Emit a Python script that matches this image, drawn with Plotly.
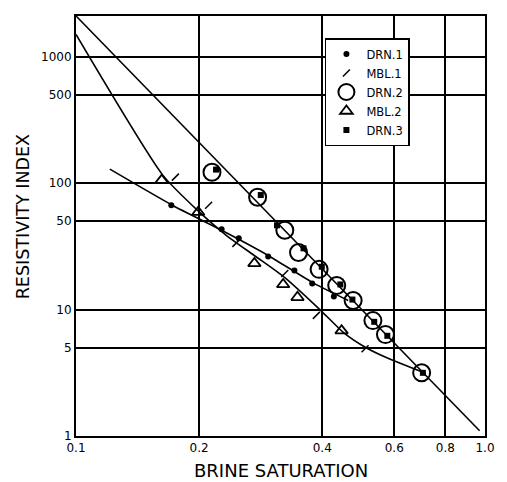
import plotly.graph_objects as go

# ---- data (brine saturation, resistivity index) ----
drn1_x = [0.171, 0.227, 0.250, 0.295, 0.342, 0.378, 0.427]
drn1_y = [66.9, 43.1, 36.6, 26.3, 20.4, 16.1, 12.7]

mbl1_x = [0.175, 0.211, 0.246, 0.324, 0.387, 0.509]
mbl1_y = [111.6, 66.9, 33.4, 19.3, 9.0, 4.9]

drn2_x = [0.215, 0.278, 0.324, 0.350, 0.393, 0.434, 0.476, 0.532, 0.571, 0.700]
drn2_y = [122, 77.4, 42.4, 28.3, 20.8, 15.5, 11.8, 8.18, 6.34, 3.16]

mbl2_x = [0.162, 0.199, 0.273, 0.321, 0.348, 0.446]
mbl2_y = [105.6, 58.9, 23.2, 15.8, 12.5, 6.81]

drn3_x = [0.220, 0.283, 0.310, 0.360, 0.399, 0.443, 0.474, 0.536, 0.577, 0.705]
drn3_y = [128, 80.5, 46.4, 30.5, 21.8, 15.8, 12.0, 8.0, 6.2, 3.16]

# fitted curves as drawn on the chart
lineA_x = [0.1, 0.97]
lineA_y = [2100, 1.1]

lineB_x = [0.100, 0.163, 0.198, 0.233, 0.275, 0.324, 0.397, 0.451, 0.512, 0.583, 0.700]
lineB_y = [1500, 115.7, 61.1, 38.7, 26.3, 17.9, 9.82, 6.57, 4.99, 4.08, 3.22]

lineC_x = [0.121, 0.172, 0.227, 0.295, 0.382, 0.463]
lineC_y = [129, 66.9, 42.4, 26.8, 16.1, 11.8]

x_ticks = [0.1, 0.2, 0.4, 0.6, 0.8, 1.0]
x_labels = ["0.1", "0.2", "0.4", "0.6", "0.8", "1.0"]
y_ticks = [1, 5, 10, 50, 100, 500, 1000]
y_labels = ["1", "5", "10", "50", "100", "500", "1000"]

FONT = "DejaVu Sans"
fig = go.Figure()

for lx, ly, shape in [(lineA_x, lineA_y, "linear"), (lineB_x, lineB_y, "spline"), (lineC_x, lineC_y, "spline")]:
    fig.add_trace(go.Scatter(x=lx, y=ly, mode="lines",
                             line=dict(color="black", width=1.6, shape=shape, smoothing=0.6),
                             showlegend=False, hoverinfo="skip"))

fig.add_trace(go.Scatter(x=drn1_x, y=drn1_y, mode="markers", name="DRN.1",
                         marker=dict(symbol="circle", size=6, color="black")))
fig.add_trace(go.Scatter(x=mbl1_x, y=mbl1_y, mode="markers", name="MBL.1",
                         marker=dict(symbol="line-ne", size=7, color="black", line=dict(color="black", width=1.5))))
fig.add_trace(go.Scatter(x=drn2_x, y=drn2_y, mode="markers", name="DRN.2",
                         marker=dict(symbol="circle-open", size=17, color="black", line=dict(color="black", width=2))))
fig.add_trace(go.Scatter(x=mbl2_x, y=mbl2_y, mode="markers", name="MBL.2",
                         marker=dict(symbol="triangle-up-open", size=11, color="black", line=dict(color="black", width=1.8))))
fig.add_trace(go.Scatter(x=drn3_x, y=drn3_y, mode="markers", name="DRN.3",
                         marker=dict(symbol="square", size=6, color="black")))

axis_common = dict(type="log", showline=True, linecolor="black", linewidth=2, mirror=True,
                   showgrid=True, gridcolor="black", gridwidth=2, zeroline=False, ticks="",
                   tickfont=dict(family=FONT, size=12, color="black"))

fig.update_xaxes(range=[-1, 0], tickvals=x_ticks, ticktext=x_labels, **axis_common)
fig.update_yaxes(range=[0, 3.322], tickvals=y_ticks, ticktext=y_labels, **axis_common)

fig.add_annotation(text="BRINE SATURATION", xref="paper", yref="paper",
                   x=(286 - 76) / 419, y=-(471 - 436) / 420, xanchor="center", yanchor="middle",
                   showarrow=False, font=dict(family=FONT, size=18, color="black"))
fig.add_annotation(text="RESISTIVITY INDEX", xref="paper", yref="paper", textangle=-90,
                   x=-(76 - 22) / 419, y=(436 - 217) / 420, xanchor="center", yanchor="middle",
                   showarrow=False, font=dict(family=FONT, size=17.5, color="black"))

fig.update_layout(
    width=507, height=482,
    margin=dict(l=76, r=12, t=16, b=46),
    paper_bgcolor="white", plot_bgcolor="white",
    showlegend=True,
    legend=dict(x=(331 - 76) / 419, y=(436 - 38) / 420, xanchor="left", yanchor="top", bgcolor="white",
                bordercolor="black", borderwidth=1.5, tracegroupgap=0, itemwidth=30,
                font=dict(family=FONT, size=11.5, color="black")),
)

fig.write_html("out.html")
